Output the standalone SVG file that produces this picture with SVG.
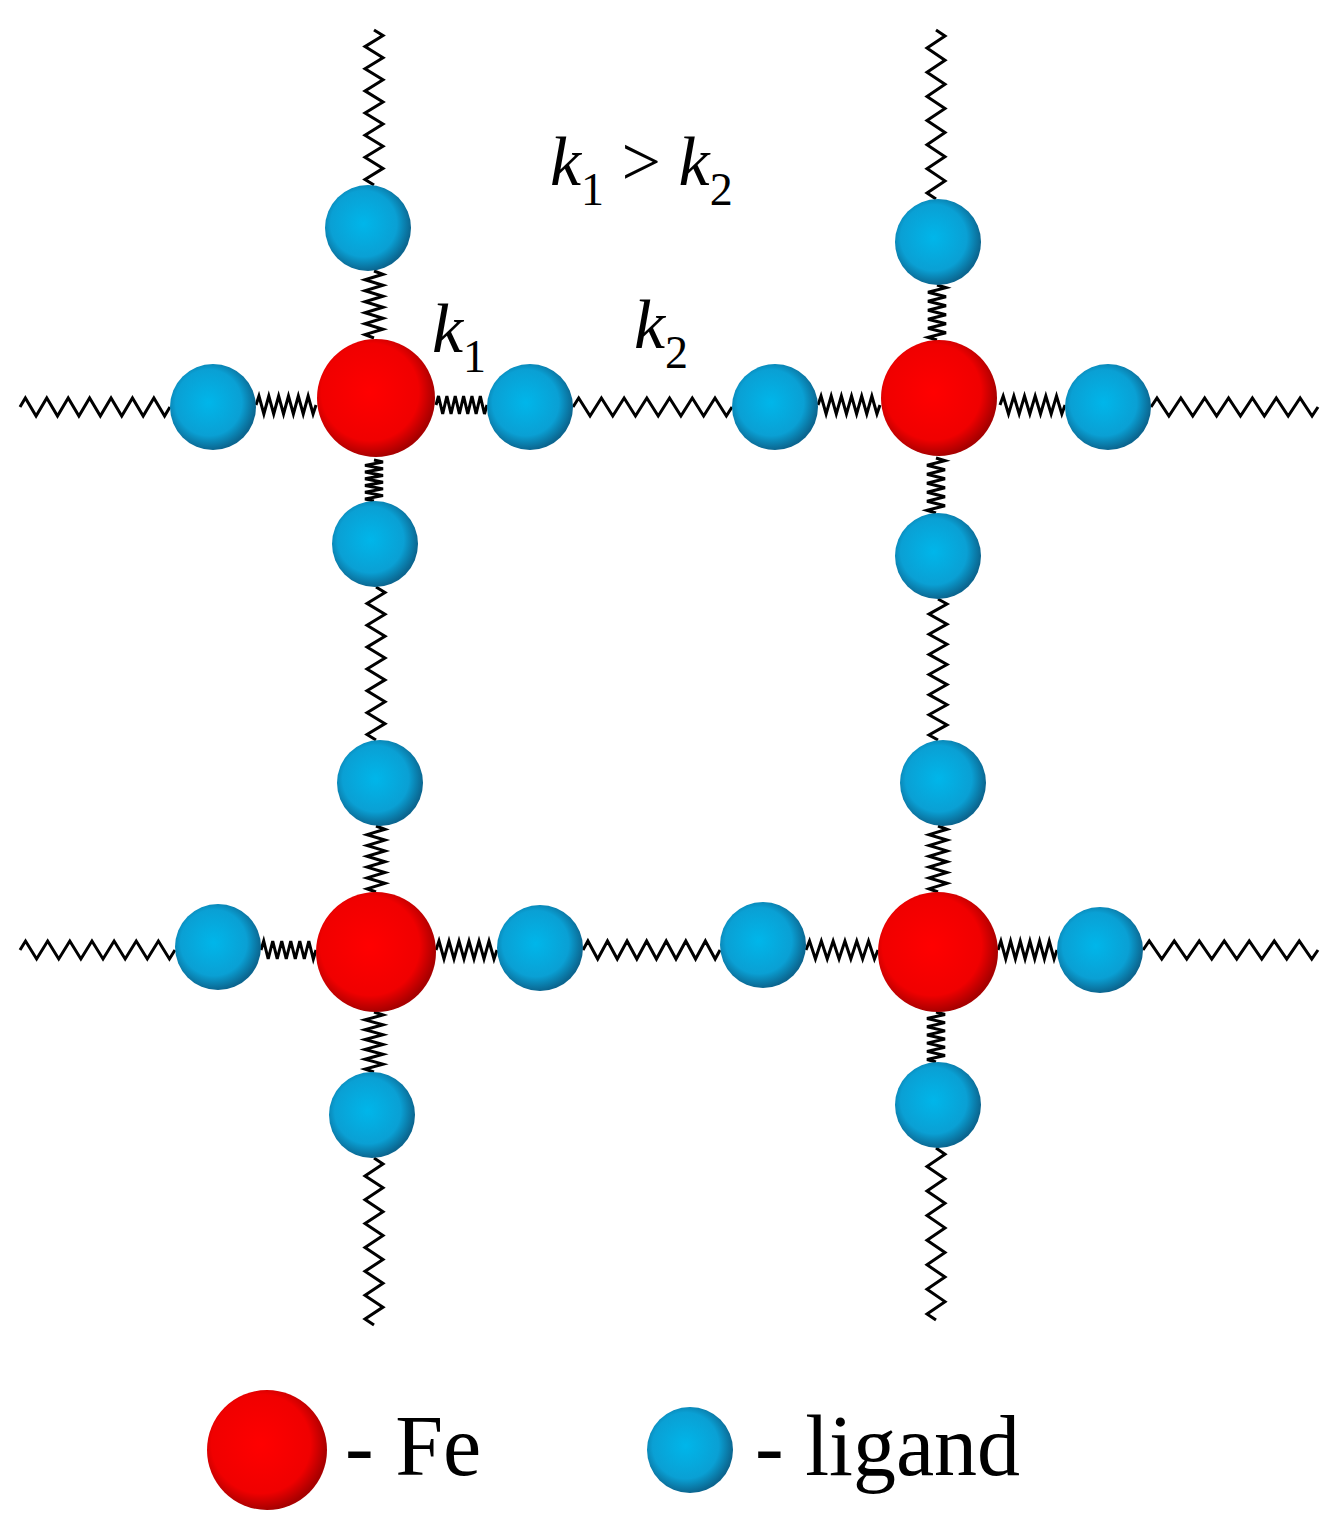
<svg xmlns="http://www.w3.org/2000/svg" xmlns:xlink="http://www.w3.org/1999/xlink" width="1338" height="1538" viewBox="0 0 1338 1538">
<style>
.z{fill:none;stroke:#000;stroke-width:3;stroke-linejoin:miter}
.t{font-family:"Liberation Serif",serif;fill:#000}
.i{font-style:italic}
</style>
<defs>
<radialGradient id="gr" cx="0.45" cy="0.45" r="0.55"><stop offset="0" stop-color="#ff0000"/><stop offset="0.75" stop-color="#f00000"/><stop offset="1" stop-color="#a80000"/></radialGradient>
<radialGradient id="gb" cx="0.45" cy="0.45" r="0.55"><stop offset="0" stop-color="#00b6ea"/><stop offset="0.7" stop-color="#0aa0d4"/><stop offset="1" stop-color="#0b6690"/></radialGradient>
<path id="zl" class="z" vector-effect="non-scaling-stroke" d="M0,0 l5,-9 l10,18 l10,-18 l10,18 l10,-18 l10,18 l10,-18 l10,18 l10,-18 l10,18 l10,-18 l10,18 l10,-18 l10,18 l5,-9"/>
<path id="zs" class="z" vector-effect="non-scaling-stroke" d="M0,0 l3,-9 l5,18 l5,-18 l5,18 l5,-18 l5,18 l5,-18 l5,18 l5,-18 l5,18 l5,-18 l5,18 l3,-9"/>
</defs>
<rect width="1338" height="1538" fill="#fff"/>
<g id="connectors">
<use href="#zl" transform="translate(20,407) scale(1.071,1)"/>
<use href="#zs" transform="translate(256,405) scale(0.984,1)"/>
<use href="#zs" transform="translate(436,405) scale(0.836,1)"/>
<use href="#zl" transform="translate(573,407) scale(1.136,1)"/>
<use href="#zs" transform="translate(818,405) scale(1.016,1)"/>
<use href="#zs" transform="translate(1000,405) scale(1.066,1)"/>
<use href="#zl" transform="translate(1151,407) scale(1.193,1)"/>
<use href="#zl" transform="translate(20,950) scale(1.107,1)"/>
<use href="#zs" transform="translate(261,950) scale(0.902,1)"/>
<use href="#zs" transform="translate(436,950) scale(1.0,1)"/>
<use href="#zl" transform="translate(583,950) scale(0.979,1)"/>
<use href="#zs" transform="translate(806,950) scale(1.18,1)"/>
<use href="#zs" transform="translate(998,950) scale(0.967,1)"/>
<use href="#zl" transform="translate(1143,950) scale(1.25,1)"/>
<use href="#zl" transform="translate(374,30) rotate(90) scale(1.107,1)"/>
<use href="#zs" transform="translate(374,271) rotate(90) scale(1.098,1)"/>
<use href="#zs" transform="translate(374,460) rotate(90) scale(0.672,1)"/>
<use href="#zl" transform="translate(376,587) rotate(90) scale(1.093,1)"/>
<use href="#zs" transform="translate(376,826) rotate(90) scale(1.082,1)"/>
<use href="#zs" transform="translate(374,1012) rotate(90) scale(0.984,1)"/>
<use href="#zl" transform="translate(374,1158) rotate(90) scale(1.193,1)"/>
<use href="#zl" transform="translate(936,30) rotate(90) scale(1.207,1)"/>
<use href="#zs" transform="translate(937,285) rotate(90) scale(0.902,1)"/>
<use href="#zs" transform="translate(936,458) rotate(90) scale(0.902,1)"/>
<use href="#zl" transform="translate(938,599) rotate(90) scale(1.007,1)"/>
<use href="#zs" transform="translate(938,826) rotate(90) scale(1.082,1)"/>
<use href="#zs" transform="translate(936,1012) rotate(90) scale(0.82,1)"/>
<use href="#zl" transform="translate(936,1148) rotate(90) scale(1.229,1)"/>
</g>
<g id="fe1"><circle cx="376" cy="398" r="59" fill="url(#gr)"/></g>
<g id="fe2"><circle cx="939" cy="398" r="58" fill="url(#gr)"/></g>
<g id="fe3"><circle cx="376" cy="952" r="60" fill="url(#gr)"/></g>
<g id="fe4"><circle cx="938" cy="952" r="60" fill="url(#gr)"/></g>
<g id="ligands" fill="url(#gb)">
<circle cx="368" cy="228" r="43"/>
<circle cx="375" cy="544" r="43"/>
<circle cx="380" cy="783" r="43"/>
<circle cx="372" cy="1115" r="43"/>
<circle cx="938" cy="242" r="43"/>
<circle cx="938" cy="556" r="43"/>
<circle cx="943" cy="783" r="43"/>
<circle cx="938" cy="1105" r="43"/>
<circle cx="213" cy="407" r="43"/>
<circle cx="530" cy="407" r="43"/>
<circle cx="775" cy="407" r="43"/>
<circle cx="1108" cy="407" r="43"/>
<circle cx="218" cy="947" r="43"/>
<circle cx="540" cy="948" r="43"/>
<circle cx="763" cy="945" r="43"/>
<circle cx="1100" cy="950" r="43"/>
</g>
<g id="labels">
<text class="t" x="550" y="185" font-size="70"><tspan class="i">k</tspan><tspan font-size="46" dy="20">1</tspan><tspan dy="-20"> &gt; </tspan><tspan class="i">k</tspan><tspan font-size="46" dy="20">2</tspan></text>
<text class="t" x="432" y="352" font-size="70"><tspan class="i">k</tspan><tspan font-size="46" dy="20">1</tspan></text>
<text class="t" x="634" y="348" font-size="70"><tspan class="i">k</tspan><tspan font-size="46" dy="20">2</tspan></text>
</g>
<g id="legend">
<circle cx="267" cy="1450" r="60" fill="url(#gr)"/>
<text class="t" x="345" y="1475" font-size="86">- Fe</text>
<circle cx="690" cy="1450" r="43" fill="url(#gb)"/>
<text class="t" x="755" y="1475" font-size="86">- ligand</text>
</g>
</svg>
